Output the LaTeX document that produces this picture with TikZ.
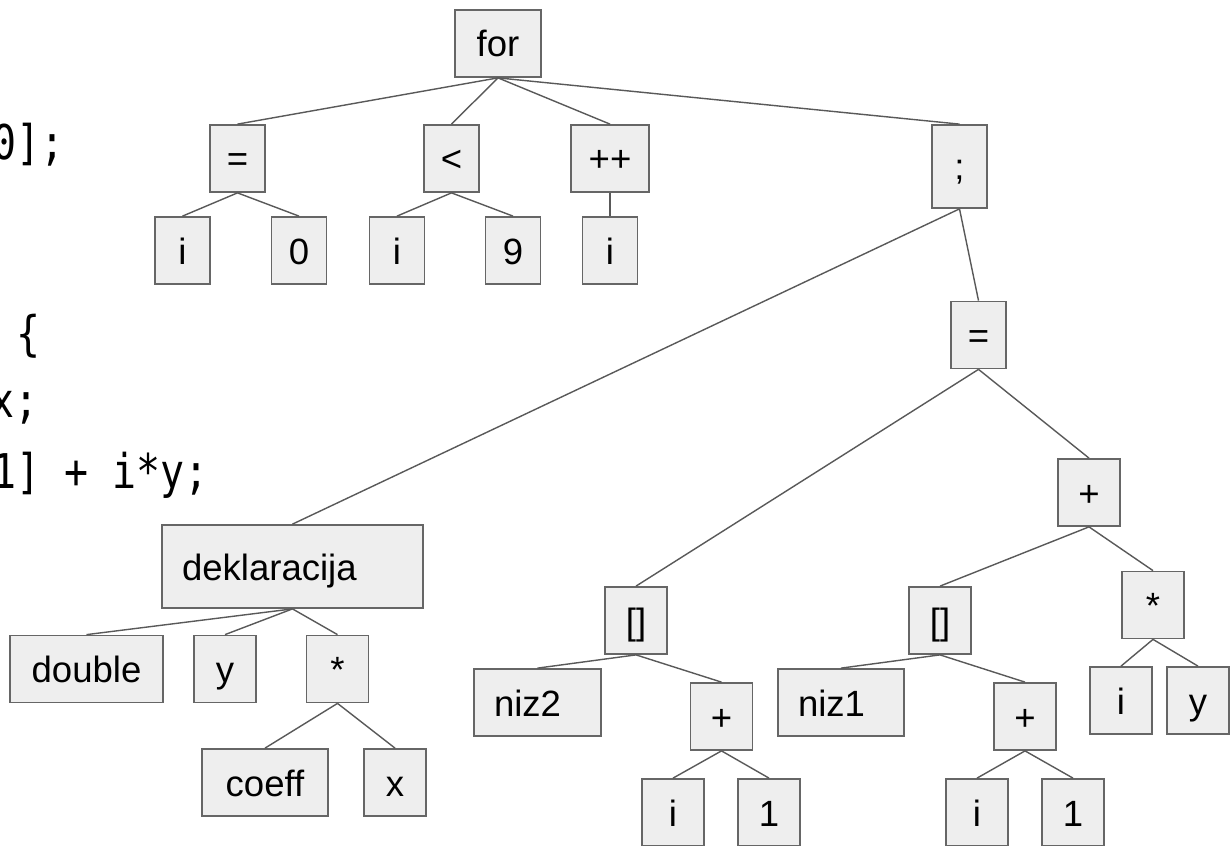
\documentclass[tikz,border=0pt]{standalone}
\usepackage{fontspec}
\usepackage{graphicx}
\usepackage{tikz}
\usetikzlibrary{positioning}
\newfontfamily\boxfont{Liberation Sans}
\newfontfamily\codefont{DejaVu Sans Mono}
\definecolor{boxfill}{HTML}{EEEEEE}
\definecolor{boxline}{HTML}{666666}
\definecolor{linkline}{HTML}{595959}

\begin{document}
\begin{tikzpicture}
	[on grid,
	box/.style = {draw=boxline, line width=1pt, fill=boxfill, minimum width=1.24cm, minimum height=1.34cm, inner sep=0pt, text height=0.54cm, text depth=0cm, font=\boxfont\fontsize{20.8}{24}\selectfont},
	topbox/.style = {box, minimum width=1.1cm},
	lbox/.style = {box, inner xsep=0.4cm, text width=#1, align=left},
	link/.style = {draw=linkline, line width=0.8pt},
	codeline/.style = {anchor=base east, inner sep=0pt, font=\codefont\fontsize{22.7}{27}\selectfont}]
	\useasboundingbox (0,0) rectangle (24.6,-16.92);
	\node[codeline] (c1) at (1.30,-3.20) {\scalebox{1}[1.2]{0];}};
	\node[codeline] (c2) at (0.82,-7.00) {\scalebox{1}[1.2]{\{}};
	\node[codeline] (c3) at (0.78,-8.34) {\scalebox{1}[1.2]{x;}};
	\node[codeline] (c4) at (4.18,-9.76) {\scalebox{1}[1.2]{1] + i*y;}};
	\node[box, minimum width=1.72cm] (for) at (9.96,-0.87) {for};
	\node[topbox] (eq1) [below left=2.30cm and 5.21cm of for] {=};
	\node[topbox] (lt) [below left=2.30cm and 0.93cm of for] {<};
	\node[topbox, minimum width=1.56cm] (inc) [below right=2.30cm and 2.24cm of for] {++};
	\node[topbox, minimum height=1.66cm] (semi) [below right=2.46cm and 9.23cm of for] {;};
	\node[topbox] (i1) [below left=1.84cm and 1.10cm of eq1] {i};
	\node[topbox] (zero) [below right=1.84cm and 1.23cm of eq1] {0};
	\node[topbox] (i2) [below left=1.84cm and 1.09cm of lt] {i};
	\node[topbox] (nine) [below right=1.84cm and 1.23cm of lt] {9};
	\node[topbox] (i3) [below=1.84cm of inc] {i};
	\node[topbox] (eq2) [below right=3.37cm and 0.38cm of semi] {=};
	\node[lbox=4.42cm, minimum height=1.66cm] (decl) [below left=8.00cm and 13.34cm of semi] {deklaracija};
	\node[box, minimum width=3.06cm] (dbl) [below left=2.05cm and 4.12cm of decl] {double};
	\node[box] (y1) [below left=2.05cm and 1.35cm of decl] {y};
	\node[box] (mul1) [below right=2.05cm and 0.90cm of decl] {*};
	\node[box, minimum width=2.52cm] (coeff) [below left=2.27cm and 1.45cm of mul1] {coeff};
	\node[box] (x1) [below right=2.27cm and 1.15cm of mul1] {x};
	\node[box] (idx1) [below left=5.71cm and 6.85cm of eq2] {[]};
	\node[lbox=1.74cm] (niz2) [below left=1.64cm and 1.97cm of idx1] {niz2};
	\node[box] (plus1) [below right=1.92cm and 1.71cm of idx1] {+};
	\node[box] (i4) [below left=1.92cm and 0.97cm of plus1] {i};
	\node[box] (one1) [below right=1.92cm and 0.95cm of plus1] {1};
	\node[box] (plus2) [below right=3.15cm and 2.21cm of eq2] {+};
	\node[box] (idx2) [below left=2.56cm and 2.98cm of plus2] {[]};
	\node[box] (mul2) [below right=2.25cm and 1.28cm of plus2] {*};
	\node[lbox=1.72cm] (niz1) [below left=1.64cm and 1.98cm of idx2] {niz1};
	\node[box] (plus3) [below right=1.92cm and 1.70cm of idx2] {+};
	\node[box] (i5) [below left=1.92cm and 0.96cm of plus3] {i};
	\node[box] (one2) [below right=1.92cm and 0.96cm of plus3] {1};
	\node[box] (i6) [below left=1.91cm and 0.64cm of mul2] {i};
	\node[box] (y2) [below right=1.91cm and 0.90cm of mul2] {y};
	\draw[link] (for.south) -- (eq1.north);
	\draw[link] (for.south) -- (lt.north);
	\draw[link] (for.south) -- (inc.north);
	\draw[link] (for.south) -- (semi.north);
	\draw[link] (eq1.south) -- (i1.north);
	\draw[link] (eq1.south) -- (zero.north);
	\draw[link] (lt.south) -- (i2.north);
	\draw[link] (lt.south) -- (nine.north);
	\draw[link] (inc.south) -- (i3.north);
	\draw[link] (semi.south) -- (decl.north);
	\draw[link] (semi.south) -- (eq2.north);
	\draw[link] (decl.south) -- (dbl.north);
	\draw[link] (decl.south) -- (y1.north);
	\draw[link] (decl.south) -- (mul1.north);
	\draw[link] (mul1.south) -- (coeff.north);
	\draw[link] (mul1.south) -- (x1.north);
	\draw[link] (eq2.south) -- (idx1.north);
	\draw[link] (eq2.south) -- (plus2.north);
	\draw[link] (idx1.south) -- (niz2.north);
	\draw[link] (idx1.south) -- (plus1.north);
	\draw[link] (plus1.south) -- (i4.north);
	\draw[link] (plus1.south) -- (one1.north);
	\draw[link] (plus2.south) -- (idx2.north);
	\draw[link] (plus2.south) -- (mul2.north);
	\draw[link] (idx2.south) -- (niz1.north);
	\draw[link] (idx2.south) -- (plus3.north);
	\draw[link] (plus3.south) -- (i5.north);
	\draw[link] (plus3.south) -- (one2.north);
	\draw[link] (mul2.south) -- (i6.north);
	\draw[link] (mul2.south) -- (y2.north);
\end{tikzpicture}
\end{document}
